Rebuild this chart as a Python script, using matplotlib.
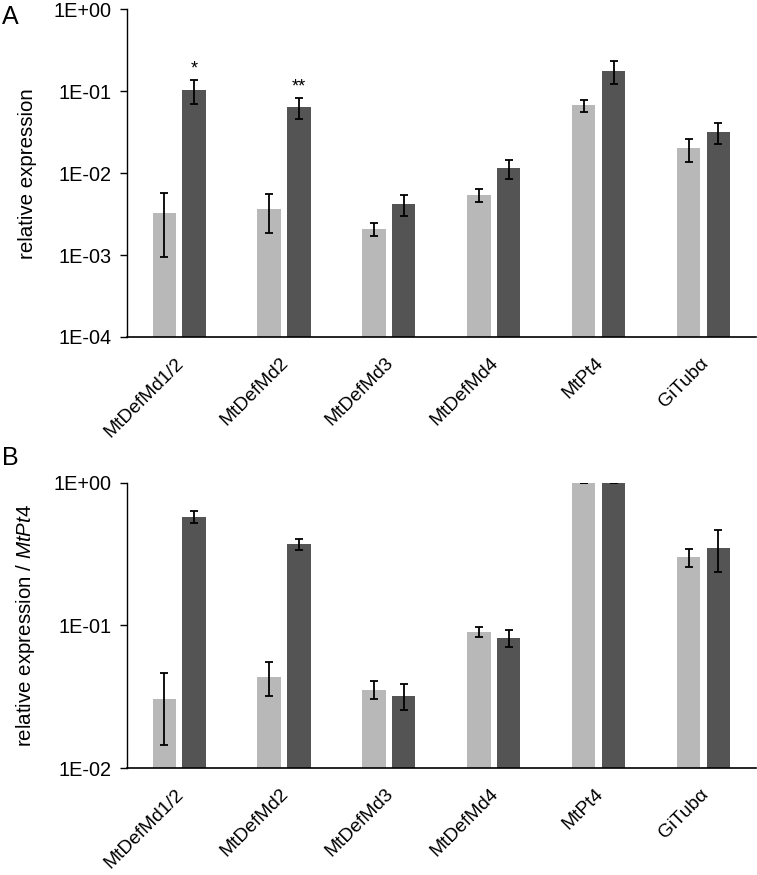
import numpy as np
import matplotlib
matplotlib.use('Agg')
import matplotlib.pyplot as plt
from matplotlib.transforms import ScaledTranslation

plt.rcParams['font.family'] = ['Liberation Sans', 'DejaVu Sans']
plt.rcParams['mathtext.fontset'] = 'custom'
plt.rcParams['mathtext.rm'] = 'Liberation Sans'
plt.rcParams['mathtext.it'] = 'Liberation Sans:italic'

genes = ['MtDefMd1/2', 'MtDefMd2', 'MtDefMd3', 'MtDefMd4', 'MtPt4', 'GiTubα']

# panel A: relative expression
a_light = [3.3e-3, 3.7e-3, 2.1e-3, 5.4e-3, 0.067, 0.020]
a_light_err = [2.35e-3, 1.85e-3, 0.38e-3, 0.93e-3, 0.012, 0.0064]
a_dark = [0.103, 0.064, 4.2e-3, 0.0114, 0.178, 0.0316]
a_dark_err = [0.034, 0.0177, 1.2e-3, 2.95e-3, 0.057, 0.0092]
a_marks = ['*', '**', '', '', '', '']

# panel B: relative expression / MtPt4
b_light = [0.0303, 0.0435, 0.0355, 0.090, 1.0, 0.30]
b_light_err = [0.0157, 0.0115, 0.0049, 0.0075, 0.0, 0.045]
b_dark = [0.575, 0.37, 0.032, 0.0816, 1.0, 0.351]
b_dark_err = [0.056, 0.034, 0.0066, 0.011, 0.0, 0.115]

c_light = '#b8b8b8'
c_dark = '#545454'

fig = plt.figure(figsize=(7.57, 8.75), dpi=100)
axA = fig.add_axes([126.7/757, 1-337/875, 629.3/757, 327.7/875])
axB = fig.add_axes([126.7/757, 1-768/875, 629.3/757, 285.3/875])

x = np.arange(len(genes))
w = 0.223
off = 0.142

def draw(ax, light, light_err, dark, dark_err, ylim, ticks, ticklabels, ylabel):
    ax.bar(x - off, light, w, color=c_light, zorder=2)
    ax.bar(x + off, dark, w, color=c_dark, zorder=2)
    ek = dict(fmt='none', ecolor='black', elinewidth=1.3, capsize=3.2, capthick=1.3, zorder=3)
    ax.errorbar(x - off, light, yerr=light_err, **ek)
    ax.errorbar(x + off, dark, yerr=dark_err, **ek)
    ax.set_yscale('log')
    ax.set_ylim(*ylim)
    ax.set_xlim(-0.5, len(genes) - 0.5)
    ax.set_yticks(ticks)
    ax.set_yticklabels(ticklabels, fontsize=14.3)
    ax.minorticks_off()
    ax.tick_params(axis='y', direction='out', length=5, width=1, pad=6)
    ax.set_xticks(x)
    ax.set_xticklabels(genes, fontsize=13.8, rotation=45,
                       ha='right', va='center', rotation_mode='anchor')
    ax.tick_params(axis='x', length=0, pad=17)
    for lab in ax.get_xticklabels():
        lab.set_transform(lab.get_transform() + ScaledTranslation(2/100, 0, fig.dpi_scale_trans))
    for s in ['top', 'right']:
        ax.spines[s].set_visible(False)
    ax.spines['left'].set_linewidth(1)
    ax.spines['bottom'].set_linewidth(1.2)
    ax.set_ylabel(ylabel, fontsize=14.8)
    ax.yaxis.set_label_coords(-0.143, 0.5)

draw(axA, a_light, a_light_err, a_dark, a_dark_err, (1e-4, 1), [1e-4, 1e-3, 1e-2, 1e-1, 1],
     ['1E-04', '1E-03', '1E-02', '1E-01', '1E+00'], 'relative expression')
draw(axB, b_light, b_light_err, b_dark, b_dark_err, (1e-2, 1), [1e-2, 1e-1, 1],
     ['1E-02', '1E-01', '1E+00'], r'relative expression / $\mathit{MtPt4}$')

for i, m in enumerate(a_marks):
    if m:
        top = a_dark[i] + a_dark_err[i]
        axA.annotate(m, (x[i] + off, top), xytext=(0, 2), textcoords='offset points',
                     ha='center', va='bottom', fontsize=13)

fig.text(2/757, 1-5/875, 'A', fontsize=18, va='top', ha='left')
fig.text(2/757, 1-446/875, 'B', fontsize=18, va='top', ha='left')

fig.savefig('out.png', dpi=100)
